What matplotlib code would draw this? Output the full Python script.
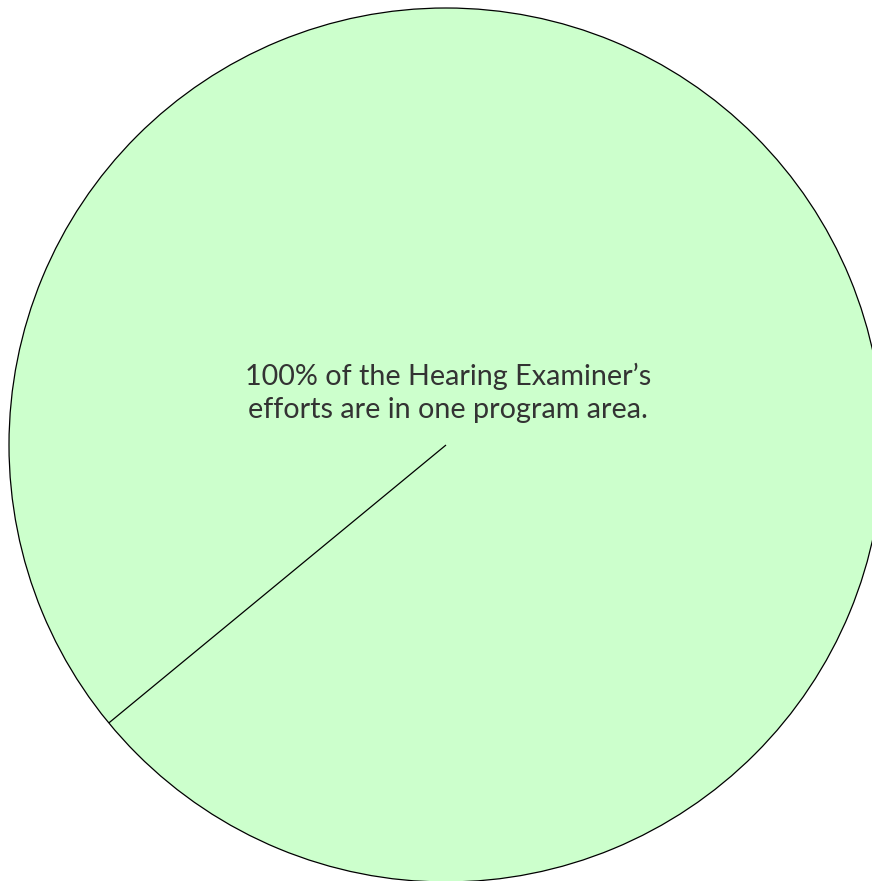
import matplotlib
matplotlib.use("Agg")
import numpy as np
import matplotlib.pyplot as plt

labels = ["Hearing Examiner"]
values = [100]
colors = ["#ccffcc"]
caption = "100% of the Hearing Examiner\u2019s\nefforts are in one program area."

W, H = 872, 881
fig = plt.figure(figsize=(W / 100, H / 100), dpi=100)
ax = fig.add_axes([0, 0, 1, 1])

cx, cy, r = 446, H - 445, 437
wedges, _ = ax.pie(values, colors=colors, startangle=219.5, center=(cx, cy), radius=r,
                   wedgeprops=dict(edgecolor="black", linewidth=0.9), frame=True)
# radial boundary of the single full wedge
w = wedges[0]
th = np.deg2rad(w.theta1)
ax.plot([w.center[0], w.center[0] + w.r * np.cos(th)],
        [w.center[1], w.center[1] + w.r * np.sin(th)],
        color="black", linewidth=0.9, solid_capstyle="butt")

ax.set_xlim(0, W)
ax.set_ylim(0, H)
ax.set_aspect("equal")
ax.axis("off")

ax.text(448, H - 393, caption, ha="center", va="center", fontsize=20.7,
        family="Lato", color="#333333", linespacing=1.3)

fig.savefig("out.png", dpi=100)
